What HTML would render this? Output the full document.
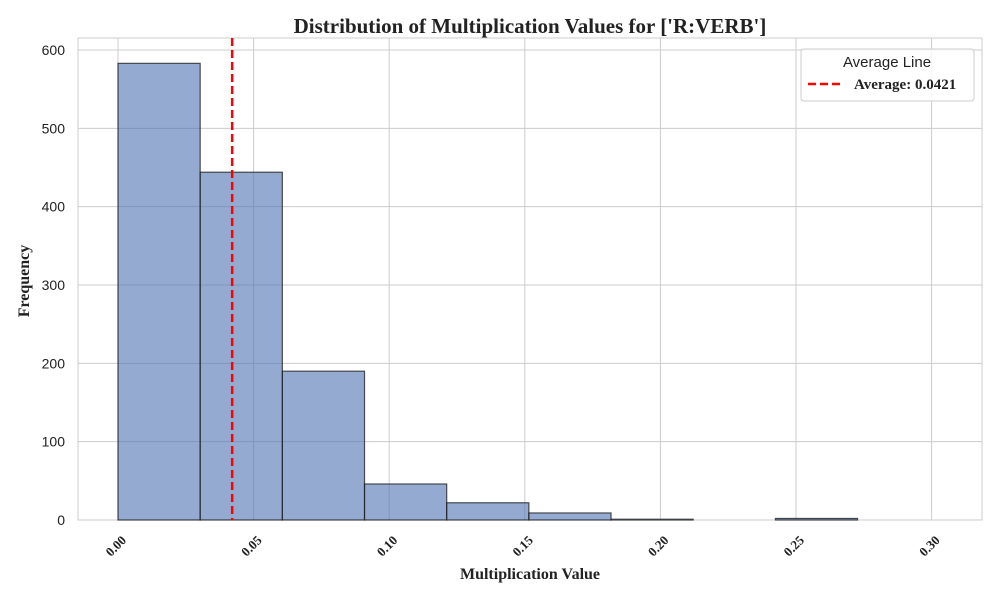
<!DOCTYPE html>
<html><head><meta charset="utf-8"><style>
body{margin:0;background:#fff;}
svg text{font-family:"Liberation Sans",sans-serif;}
.serif{font-family:"Liberation Serif",serif !important;font-weight:bold;}
</style></head><body>
<svg id="chart" width="1000" height="600" xmlns="http://www.w3.org/2000/svg">
<rect x="78" y="38" width="904" height="482" fill="#fff" stroke="#cccccc"/>
<g id="grid"></g>
<g id="bars"></g>
<g id="ticks"></g>
<text class="serif" x="530" y="33" text-anchor="middle" font-size="21" fill="#222">Distribution of Multiplication Values for ['R:VERB']</text>
<text class="serif" x="530" y="579" text-anchor="middle" font-size="16" fill="#222">Multiplication Value</text>
<text class="serif" x="29" y="281" text-anchor="middle" font-size="16" fill="#222" transform="rotate(-90 29 281)">Frequency</text>
<g>
<rect x="801" y="49" width="173" height="52" rx="3" fill="#fff" fill-opacity="0.85" stroke="#cccccc"/>
<text x="887" y="67" text-anchor="middle" font-size="15" fill="#222">Average Line</text>
<line x1="808" y1="84" x2="840" y2="84" stroke="#ff0000" stroke-width="2.5" stroke-dasharray="8,4"/>
<text class="serif" x="854" y="89" font-size="15" fill="#222">Average: 0.0421</text>
</g>
</svg>
<script>
const binStart = 0.0, binWidth = 0.0303;
const counts = [583, 444, 190, 46, 22, 9, 1, 0, 2];
const xTicks = [0, 0.05, 0.10, 0.15, 0.20, 0.25, 0.30];
const xTickLabels = ["0.00","0.05","0.10","0.15","0.20","0.25","0.30"];
const yTicks = [0, 100, 200, 300, 400, 500, 600];
const average = 0.0421;
const X = v => 118 + v * 2712;
const Y = v => 520 - v * 0.7833;
const NS = "http://www.w3.org/2000/svg";
const grid = document.getElementById('grid'), bars = document.getElementById('bars'), ticks = document.getElementById('ticks');
function mk(tag, attrs, parent){const e=document.createElementNS(NS,tag);for(const k in attrs)e.setAttribute(k,attrs[k]);parent.appendChild(e);return e;}
yTicks.forEach(t=>{
  const l=mk('line',{x1:78,x2:982,y1:Y(t),y2:Y(t),stroke:'#cccccc','stroke-width':1},grid);
  
  
  const tx=mk('text',{x:65,y:Y(t)+5,'text-anchor':'end','font-size':14,fill:'#222'},ticks);
  tx.textContent=t;
  
  
});
xTicks.forEach((t,i)=>{
  const l=mk('line',{x1:X(t),x2:X(t),y1:38,y2:520,stroke:'#cccccc','stroke-width':1},grid);
  
  
  const x=X(t)+9,y=541;
  const tx=mk('text',{x:x,y:y,'text-anchor':'end','font-size':13,fill:'#222',class:'serif',transform:`rotate(-45 ${x} ${y})`},ticks);
  tx.textContent=xTickLabels[i];
  
  
});
counts.forEach((c,i)=>{
  const x0=X(binStart+i*binWidth),x1=X(binStart+(i+1)*binWidth);
  const r=mk('rect',{x:x0,y:Y(c),width:x1-x0,height:Y(0)-Y(c),fill:'#4c72b0','fill-opacity':0.6,stroke:'#1a1a1a','stroke-opacity':0.75,'stroke-width':1.2},bars);
  
  
});
const avg=mk('line',{x1:X(average),x2:X(average),y1:38,y2:520,stroke:'#ff0000','stroke-width':2.5,'stroke-dasharray':'8,4'},bars);


</script>
</body></html>
